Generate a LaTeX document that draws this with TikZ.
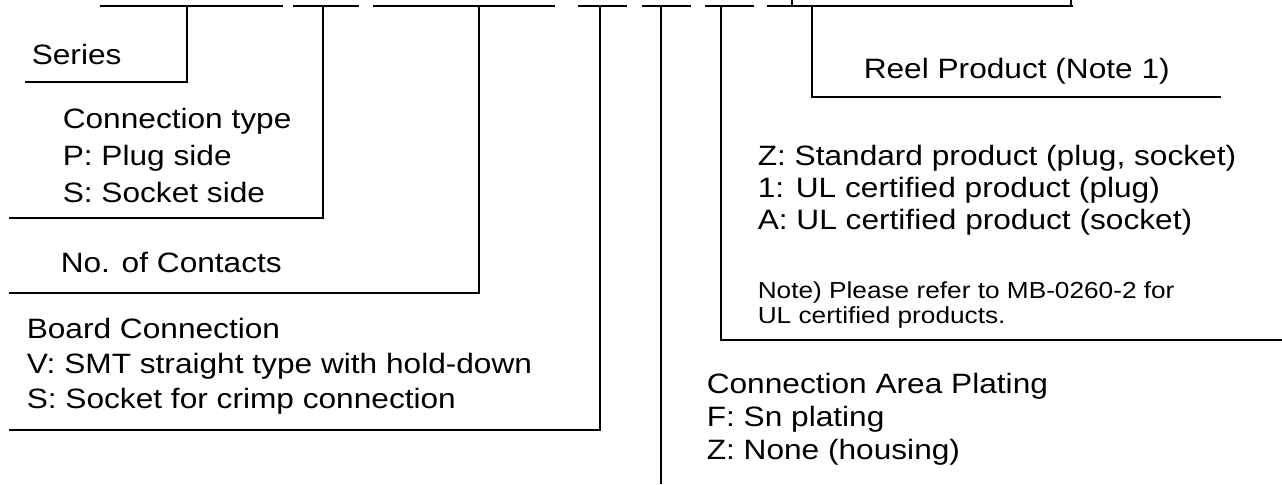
\documentclass[tikz,border=0pt]{standalone}
\usepackage{fontspec}
\setmainfont[FakeStretch=1.13]{Liberation Sans}
\usetikzlibrary{positioning}
\tikzset{>=latex}

\begin{document}
\begin{tikzpicture}[x=0.5pt, y=-0.5pt, line width=0.8pt,
	lbl/.style={anchor=north west, inner sep=0pt, align=left, font=\fontsize{14}{17.5}\selectfont},
	widelbl/.style={lbl, font=\fontsize{14}{18.5}\selectfont},
	tightlbl/.style={lbl, font=\fontsize{14}{16.5}\selectfont},
	smalllbl/.style={lbl, font=\fontsize{11.6}{12.5}\selectfont}]
	\useasboundingbox (0,0) rectangle (1282,484);

	\foreach \a/\b in {100/283, 293/359, 373/555, 578/627, 642/691, 705/754, 767/1073}
		\draw (\a,6) -- (\b,6);
	\draw (792,0) -- (792,6) (1071,0) -- (1071,6);

	\coordinate (series) at (187,6);   \coordinate (seriesE) at (25,82);
	\coordinate (ctype) at (323,6);    \coordinate (ctypeE) at (9,218);
	\coordinate (contacts) at (479,6); \coordinate (contactsE) at (9,293);
	\coordinate (board) at (600,6);    \coordinate (boardE) at (9,430);
	\coordinate (plating) at (661,6);  \coordinate (platingE) at (661,484);
	\coordinate (grade) at (721,6);    \coordinate (gradeE) at (1282,340);
	\coordinate (reel) at (812,6);     \coordinate (reelE) at (1221,97);

	\draw (series) |- (seriesE);
	\draw (ctype) |- (ctypeE);
	\draw (contacts) |- (contactsE);
	\draw (board) |- (boardE);
	\draw (plating) -- (platingE);
	\draw (grade) |- (gradeE);
	\draw (reel) |- (reelE);

	\node[lbl] (seriesT) at (31,43) {Series};
	\node[widelbl] (ctypeT) at (62,107) {Connection type\\P: Plug side\\S: Socket side};
	\node[lbl] (contactsT) at (60,251) {No. of Contacts};
	\node[lbl] (boardT) at (26,317) {Board Connection\\V: SMT straight type with hold-down\\S: Socket for crimp connection};
	\node[lbl] (reelT) at (863,57) {Reel Product (Note 1)};
	\node[lbl, font=\fontsize{14}{16}\selectfont] (gradeT) at (757,144) {Z: Standard product (plug, socket)\\1: UL certified product (plug)\\A: UL certified product (socket)};
	\node[smalllbl] (noteT) at (757,281) {Note) Please refer to MB-0260-2 for\\UL certified products.};
	\node[tightlbl] (platingT) at (706,372) {Connection Area Plating\\F: Sn plating\\Z: None (housing)};
\end{tikzpicture}
\end{document}
